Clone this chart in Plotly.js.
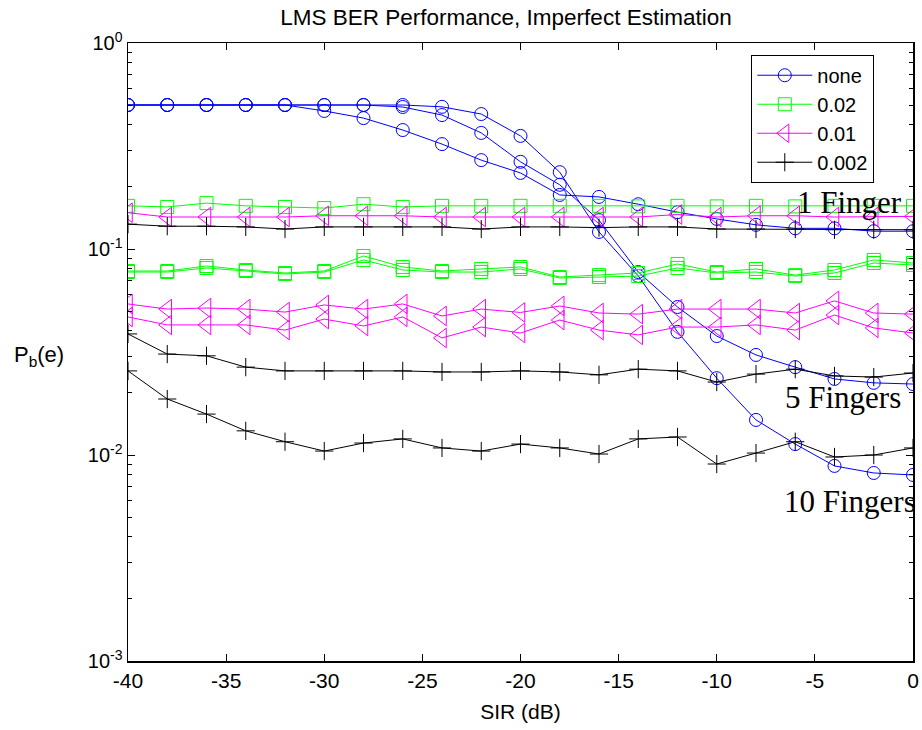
<!DOCTYPE html>
<html>
<head>
<meta charset="utf-8">
<script src="https://cdn.plot.ly/plotly-3.0.1.min.js"></script>
<style>html,body{margin:0;padding:0;background:#fff;}#chart{width:922px;height:730px;}</style>
</head>
<body>
<div id="chart"></div>
<script>
// SIR (dB)
const sir = [-40,-38,-36,-34,-32,-30,-28,-26,-24,-22,-20,-18,-16,-14,-12,-10,-8,-6,-4,-2,0];

// "none" (blue circles): 1, 5, 10 fingers
const none1  = [0.5,0.5,0.5,0.5,0.5,0.468,0.432,0.378,0.323,0.270,0.234,0.183,0.179,0.165,0.151,0.140,0.131,0.126,0.126,0.122,0.122];
const none5  = [0.5,0.5,0.5,0.5,0.5,0.5,0.5,0.489,0.447,0.366,0.265,0.205,0.138,0.0773,0.0523,0.0378,0.0306,0.0267,0.0234,0.0224,0.0221];
const none10 = [0.5,0.5,0.5,0.5,0.5,0.5,0.5,0.5,0.49,0.452,0.354,0.236,0.121,0.074,0.0396,0.0236,0.0148,0.0113,0.00885,0.00818,0.0080];

// 0.02 (green squares)
const g1  = [0.162,0.160,0.167,0.162,0.160,0.158,0.165,0.160,0.162,0.162,0.162,0.162,0.162,0.161,0.162,0.161,0.162,0.161,0.162,0.162,0.162];
const g5  = [0.0782,0.0782,0.0827,0.0791,0.0765,0.0782,0.0925,0.0818,0.0782,0.0800,0.0818,0.0731,0.0747,0.0765,0.0846,0.0773,0.0800,0.0747,0.0791,0.0885,0.0855];
const g10 = [0.0773,0.0773,0.0809,0.0782,0.0756,0.0773,0.0885,0.0791,0.0773,0.0773,0.0800,0.0723,0.0731,0.0739,0.0809,0.0765,0.0773,0.0739,0.0765,0.0855,0.0836];

// 0.01 (magenta triangles)
const m1  = [0.150,0.143,0.143,0.143,0.143,0.145,0.145,0.145,0.143,0.143,0.143,0.143,0.143,0.143,0.147,0.143,0.145,0.145,0.143,0.143,0.144];
const m5  = [0.0541,0.0511,0.0517,0.0511,0.0494,0.0535,0.0511,0.0541,0.0473,0.0511,0.0492,0.0529,0.0489,0.0483,0.0511,0.0511,0.0511,0.0489,0.0560,0.0489,0.0483];
const m10 = [0.0468,0.0428,0.0428,0.0428,0.0404,0.0457,0.0423,0.0468,0.0370,0.0418,0.0391,0.0452,0.0404,0.0383,0.0418,0.0418,0.0428,0.0404,0.0478,0.0414,0.0391];

// 0.002 (black plus)
const k1  = [0.132,0.129,0.129,0.128,0.125,0.128,0.128,0.128,0.128,0.125,0.128,0.128,0.127,0.128,0.128,0.125,0.125,0.125,0.124,0.124,0.124];
const k5  = [0.0387,0.0309,0.0303,0.0267,0.0256,0.0256,0.0256,0.0256,0.0253,0.0253,0.0256,0.0253,0.0245,0.0261,0.0256,0.0226,0.0247,0.0261,0.0242,0.0239,0.0250];
const k10 = [0.0256,0.0187,0.0158,0.0131,0.0116,0.01045,0.01143,0.01197,0.01082,0.01045,0.0113,0.01082,0.01011,0.01197,0.01223,0.00904,0.01022,0.0116,0.00978,0.0100,0.01082];

const seriesNames = ['none','0.02','0.01','0.002'];
const yTickVals = [0.001,0.01,0.1,1];
const yTickText = ['10<sup>-3</sup>','10<sup>-2</sup>','10<sup>-1</sup>','10<sup>0</sup>'];
const yMinorVals = [0.002,0.003,0.004,0.005,0.006,0.007,0.008,0.009,
                    0.02,0.03,0.04,0.05,0.06,0.07,0.08,0.09,
                    0.2,0.3,0.4,0.5,0.6,0.7,0.8,0.9];
const xTickVals = [-40,-35,-30,-25,-20,-15,-10,-5,0];
const xTickText = ['-40','-35','-30','-25','-20','-15','-10','-5','0'];
const fingerLabels = ['1 Finger','5 Fingers','10 Fingers'];

const styles = [
  {color:'#0000ff', symbol:'circle-open', size:13},
  {color:'#00ff00', symbol:'square-open', size:13},
  {color:'#ff00ff', symbol:'triangle-left-open', size:17},
  {color:'#000000', symbol:'cross-thin', size:13}
];
const groups = [[none1,none5,none10],[g1,g5,g10],[m1,m5,m10],[k1,k5,k10]];

const traces = [];
groups.forEach((grp, gi) => {
  const st = styles[gi];
  grp.forEach((ys, fi) => {
    traces.push({
      x: sir, y: ys, type:'scatter', mode:'lines+markers',
      name: seriesNames[gi], showlegend: fi === 0,
      line:{color:st.color, width:1},
      marker:{symbol:st.symbol, size:st.size, color:st.color, line:{color:st.color, width:1}}
    });
  });
});

const font = 'Liberation Sans, Arial, Helvetica, sans-serif';
const serif = 'Liberation Serif, Times New Roman, serif';
const layout = {
  width:922, height:730,
  margin:{l:128, r:9, t:43, b:69},
  paper_bgcolor:'#ffffff', plot_bgcolor:'#ffffff',
  font:{family:font, color:'#000', size:20},
  title:{text:'LMS BER Performance, Imperfect Estimation', font:{family:font, size:22.5, color:'#000'},
         xref:'paper', x:0.4815, xanchor:'center', yref:'container', y:0.977, yanchor:'middle'},
  showlegend:true,
  legend:{x:0.794, y:0.981, xanchor:'left', yanchor:'top', bgcolor:'#ffffff',
          bordercolor:'#000', borderwidth:1, font:{family:font, size:20, color:'#000'},
          tracegroupgap:0, itemwidth:55, traceorder:'normal'},
  xaxis:{range:[-40,0], tickmode:'array', tickvals:xTickVals, ticktext:xTickText, ticks:'inside', ticklen:7, tickwidth:1,
         tickcolor:'#000', showline:true, linecolor:'#000', linewidth:1.5, mirror:'allticks',
         showgrid:false, zeroline:false, tickfont:{family:font, size:21},
         title:{text:'SIR (dB)', font:{family:font, size:21}, standoff:13}},
  yaxis:{type:'log', range:[-3,0], tickmode:'array', tickvals:yTickVals, ticktext:yTickText,
         ticks:'inside', ticklen:7, tickwidth:1, tickcolor:'#000',
         minor:{ticks:'inside', ticklen:4, tickwidth:1, tickcolor:'#000', tickmode:'array', tickvals:yMinorVals, showgrid:false},
         showline:true, linecolor:'#000', linewidth:1.5, mirror:'allticks',
         showgrid:false, zeroline:false, tickfont:{family:font, size:20}},
  annotations:[
    {text:'P<sub>b</sub>(e)', xref:'paper', yref:'paper', x:-0.148, y:0.494, xanchor:'left', yanchor:'middle',
     showarrow:false, font:{family:font, size:22, color:'#000'}},
    {text:fingerLabels[0], xref:'paper', yref:'y', x:0.988, y:-0.772, xanchor:'right', yanchor:'middle',
     showarrow:false, font:{family:serif, size:31, color:'#000'}},
    {text:fingerLabels[1], xref:'paper', yref:'y', x:0.987, y:-1.723, xanchor:'right', yanchor:'middle',
     showarrow:false, font:{family:serif, size:31, color:'#000'}},
    {text:fingerLabels[2], xref:'paper', yref:'y', x:1.006, y:-2.228, xanchor:'right', yanchor:'middle',
     showarrow:false, font:{family:serif, size:31, color:'#000'}}
  ]
};

Plotly.newPlot('chart', traces, layout, {displayModeBar:false, staticPlot:true});
</script>
</body>
</html>
